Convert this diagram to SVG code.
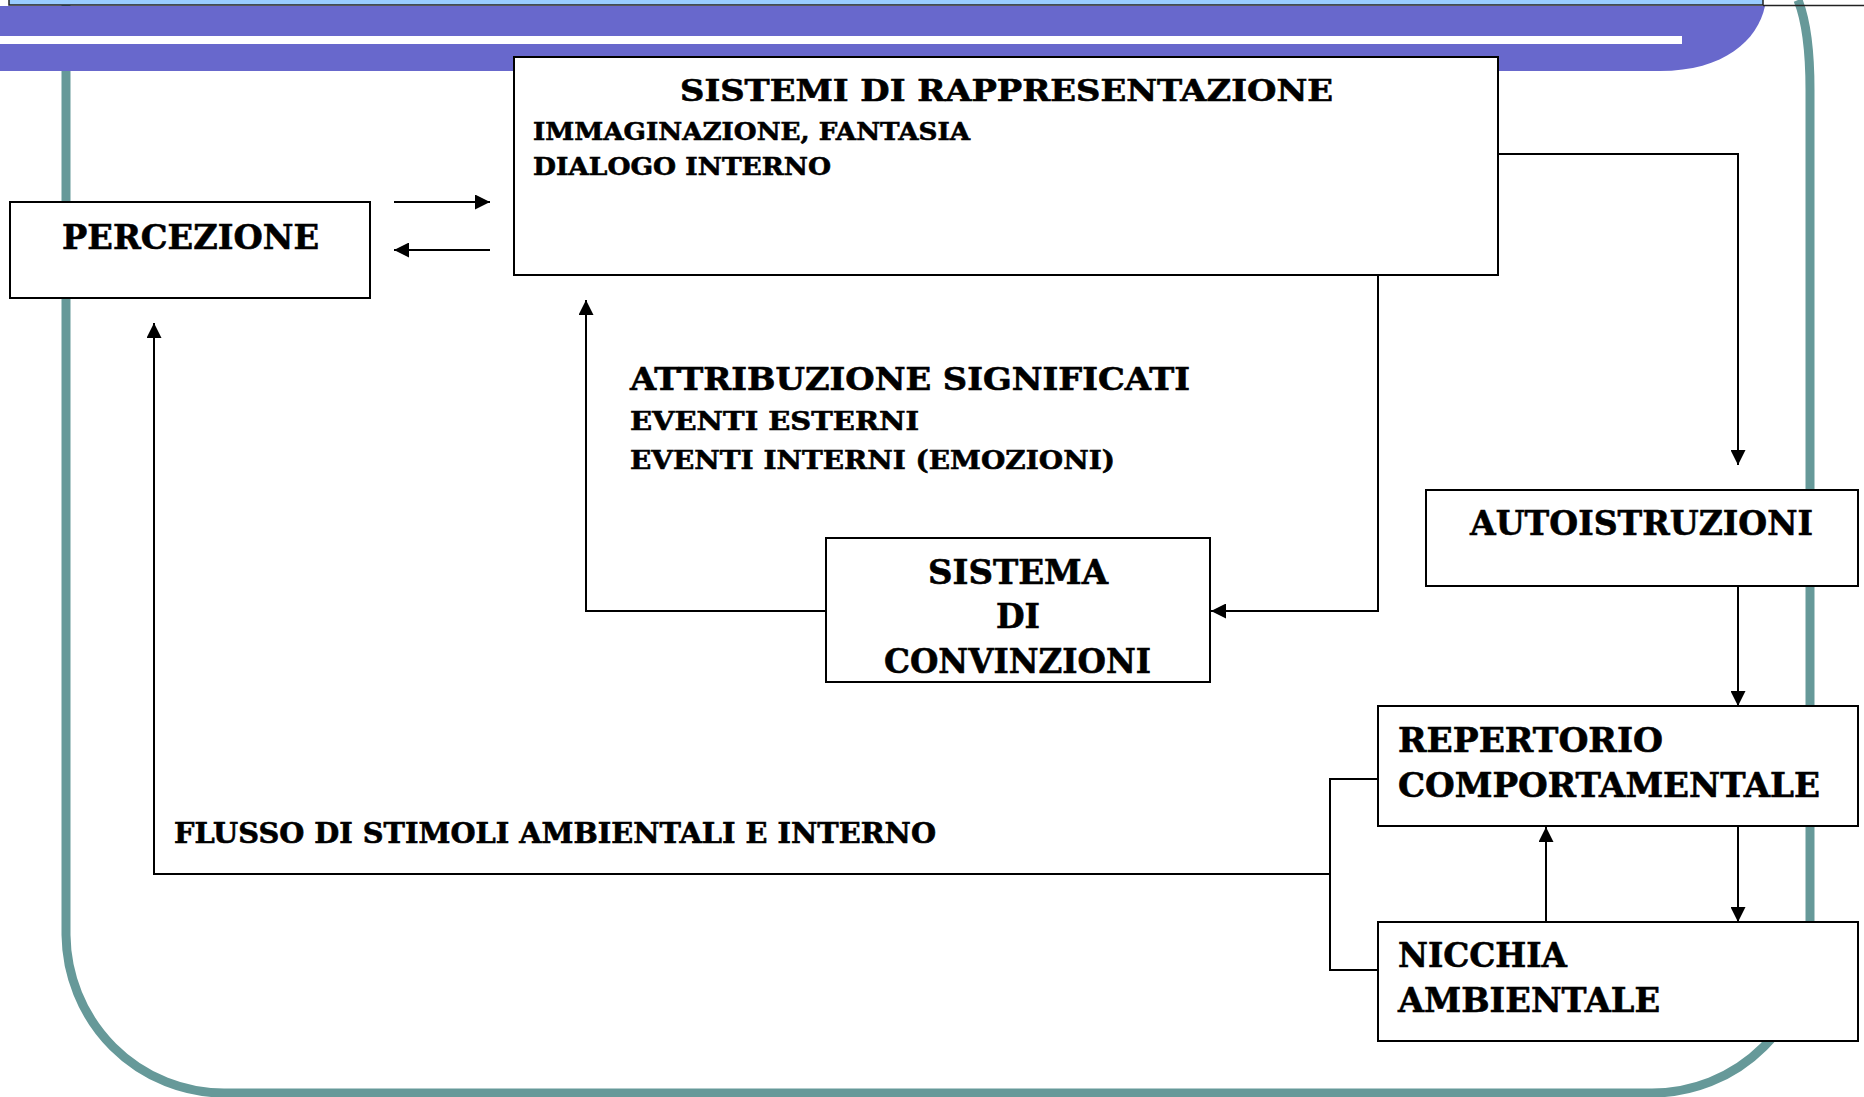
<svg xmlns="http://www.w3.org/2000/svg" width="1864" height="1097" viewBox="0 0 1864 1097">
  <style>
    .box { fill: #ffffff; stroke: #000000; stroke-width: 2; }
    .t { font-family: "DejaVu Serif", "Liberation Serif", serif; font-weight: bold; fill: #000000; stroke: #000000; stroke-width: 0.6; }
    .conn { fill: none; stroke: #000000; stroke-width: 2; }
    .arr { marker-end: url(#ah); }
  </style>
  <defs>
    <marker id="ah" viewBox="0 0 10 10" refX="10" refY="5" markerWidth="15" markerHeight="15" markerUnits="userSpaceOnUse" orient="auto">
      <path d="M0,0 L10,5 L0,10 Z" fill="#000000"/>
    </marker>
  </defs>
  <rect x="0" y="0" width="1864" height="1097" fill="#ffffff"/>
  <g id="background">
    <path d="M66,0 V935 A158,160 0 0 0 224,1093 H1652 A158,158 0 0 0 1810,935 V90 C1810,50 1806,20 1798,0" fill="none" stroke="#669999" stroke-width="9"/>
    <path d="M0,6 H1765 C1758,40 1724,71 1660,71 H0 Z" fill="#6868cc"/>
    <rect x="0" y="36" width="1682" height="8" fill="#ffffff"/>
    <rect x="9" y="-2" width="1754" height="7" fill="#99ccff" stroke="#222222" stroke-width="1.5"/>
    <line x1="1763" y1="5.5" x2="1864" y2="5.5" stroke="#222222" stroke-width="1.5"/>
  </g>
  <g id="connectors">
    <path class="conn arr" d="M394,202 H490"/>
    <path class="conn arr" d="M490,250 H394"/>
    <path class="conn arr" d="M1498,154 H1738 V465"/>
    <path class="conn arr" d="M1378,275 V611 H1211"/>
    <path class="conn arr" d="M826,611 H586 V300"/>
    <path class="conn arr" d="M1738,586 V706"/>
    <path class="conn arr" d="M1738,826 V922"/>
    <path class="conn arr" d="M1546,922 V827"/>
    <path class="conn" d="M1378,779 H1330 V970 H1378"/>
    <path class="conn arr" d="M1330,874 H154 V323"/>
  </g>
  <g id="percezione">
    <rect class="box" x="10" y="202" width="360" height="96"/>
    <text class="t" x="62" y="249" font-size="34" textLength="257" lengthAdjust="spacingAndGlyphs">PERCEZIONE</text>
  </g>
  <g id="sistemi-rappresentazione">
    <rect class="box" x="514" y="57" width="984" height="218"/>
    <text class="t" x="680" y="101" font-size="29" textLength="653" lengthAdjust="spacingAndGlyphs">SISTEMI DI RAPPRESENTAZIONE</text>
    <text class="t" x="533" y="140" font-size="25" textLength="437" lengthAdjust="spacingAndGlyphs">IMMAGINAZIONE, FANTASIA</text>
    <text class="t" x="533" y="175" font-size="25" textLength="298" lengthAdjust="spacingAndGlyphs">DIALOGO INTERNO</text>
  </g>
  <g id="attribuzione-significati">
    <text class="t" x="630" y="390" font-size="31" textLength="560" lengthAdjust="spacingAndGlyphs">ATTRIBUZIONE SIGNIFICATI</text>
    <text class="t" x="630" y="430" font-size="26" textLength="289" lengthAdjust="spacingAndGlyphs">EVENTI ESTERNI</text>
    <text class="t" x="630" y="469" font-size="26" textLength="485" lengthAdjust="spacingAndGlyphs">EVENTI INTERNI (EMOZIONI)</text>
  </g>
  <g id="sistema-convinzioni">
    <rect class="box" x="826" y="538" width="384" height="144"/>
    <text class="t" x="928" y="584" font-size="33" textLength="180" lengthAdjust="spacingAndGlyphs">SISTEMA</text>
    <text class="t" x="996" y="628" font-size="33" textLength="44" lengthAdjust="spacingAndGlyphs">DI</text>
    <text class="t" x="884" y="673" font-size="33" textLength="267" lengthAdjust="spacingAndGlyphs">CONVINZIONI</text>
  </g>
  <g id="autoistruzioni">
    <rect class="box" x="1426" y="490" width="432" height="96"/>
    <text class="t" x="1470" y="535" font-size="34" textLength="343" lengthAdjust="spacingAndGlyphs">AUTOISTRUZIONI</text>
  </g>
  <g id="repertorio-comportamentale">
    <rect class="box" x="1378" y="706" width="480" height="120"/>
    <text class="t" x="1398" y="752" font-size="33" textLength="265" lengthAdjust="spacingAndGlyphs">REPERTORIO</text>
    <text class="t" x="1398" y="797" font-size="33" textLength="422" lengthAdjust="spacingAndGlyphs">COMPORTAMENTALE</text>
  </g>
  <g id="nicchia-ambientale">
    <rect class="box" x="1378" y="922" width="480" height="119"/>
    <text class="t" x="1398" y="967" font-size="33" textLength="169" lengthAdjust="spacingAndGlyphs">NICCHIA</text>
    <text class="t" x="1398" y="1012" font-size="33" textLength="262" lengthAdjust="spacingAndGlyphs">AMBIENTALE</text>
  </g>
  <g id="flusso-label">
    <text class="t" x="174" y="843" font-size="27" textLength="762" lengthAdjust="spacingAndGlyphs">FLUSSO DI STIMOLI AMBIENTALI E INTERNO</text>
  </g>
</svg>
